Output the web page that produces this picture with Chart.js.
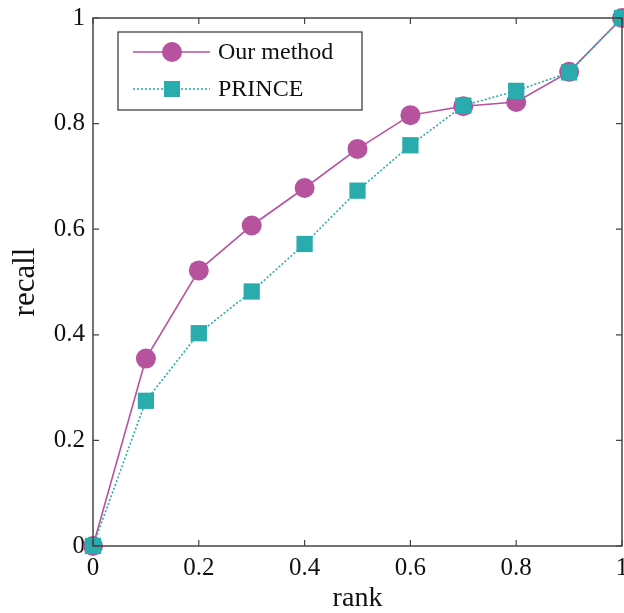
<!DOCTYPE html>
<html>
<head>
<meta charset="utf-8">
<script src="https://cdn.jsdelivr.net/npm/chart.js@4/dist/chart.umd.min.js"></script>
<style>
html,body{margin:0;padding:0;background:#fff;}
#wrap{width:624px;height:613px;}
</style>
</head>
<body>
<div id="wrap"><canvas id="c" width="624" height="613"></canvas></div>
<script>
const rank = [0, 0.1, 0.2, 0.3, 0.4, 0.5, 0.6, 0.7, 0.8, 0.9, 1.0];
const ourMethod = [0, 0.355, 0.522, 0.607, 0.678, 0.752, 0.816, 0.833, 0.841, 0.898, 1.0];
const prince = [0, 0.275, 0.403, 0.482, 0.572, 0.673, 0.759, 0.834, 0.862, 0.897, 1.0];
const seriesNames = ['Our method', 'PRINCE'];
const tickValues = [0, 0.2, 0.4, 0.6, 0.8, 1];

const MAG = '#B6529E';
const TEAL = '#2AABAD';
const FONT = '"Liberation Serif", "Times New Roman", serif';

function pts(ys){ return rank.map((x,i)=>({x:x, y:ys[i]})); }

const frame = {
  id:'frame',
  afterDatasetsDraw(chart){
    const {ctx, chartArea:a, scales:{x, y}} = chart;
    ctx.save();
    ctx.strokeStyle = '#444';
    ctx.lineWidth = 1.5;
    ctx.strokeRect(a.left, a.top, a.right-a.left, a.bottom-a.top);
    ctx.lineWidth = 1.2;
    const L = 6;
    ctx.beginPath();
    tickValues.forEach(v=>{
      const px = x.getPixelForValue(v);
      ctx.moveTo(px, a.bottom); ctx.lineTo(px, a.bottom-L);
      ctx.moveTo(px, a.top); ctx.lineTo(px, a.top+L);
      const py = y.getPixelForValue(v);
      ctx.moveTo(a.left, py); ctx.lineTo(a.left+L, py);
      ctx.moveTo(a.right, py); ctx.lineTo(a.right-L, py);
    });
    ctx.stroke();
    ctx.restore();
  },
  afterDraw(chart){
    const {ctx} = chart;
    ctx.save();
    const bx=118, by=32, bw=244, bh=78;
    ctx.fillStyle='#fff';
    ctx.fillRect(bx,by,bw,bh);
    ctx.strokeStyle='#333';
    ctx.lineWidth=1.2;
    ctx.strokeRect(bx,by,bw,bh);
    const rows=[52,89];
    chart.data.datasets.forEach((ds,i)=>{
      const yy=rows[i];
      ctx.strokeStyle=ds.borderColor;
      ctx.lineWidth=ds.borderWidth;
      ctx.setLineDash(ds.borderDash||[]);
      ctx.beginPath(); ctx.moveTo(133,yy); ctx.lineTo(210,yy); ctx.stroke();
      ctx.setLineDash([]);
      ctx.fillStyle=ds.pointBackgroundColor;
      if(ds.pointStyle==='circle'){
        ctx.beginPath(); ctx.arc(172,yy,10,0,Math.PI*2); ctx.fill();
      } else {
        ctx.fillRect(172-8,yy-8,16,16);
      }
      ctx.fillStyle='#111';
      ctx.font='24px '+FONT;
      ctx.textBaseline='middle';
      ctx.textAlign='left';
      ctx.fillText(ds.label, 218, yy+1);
    });
    ctx.restore();
  }
};

new Chart(document.getElementById('c'), {
  type:'line',
  data:{
    datasets:[
      {label:seriesNames[0], data:pts(ourMethod), borderColor:MAG, backgroundColor:MAG,
       pointBackgroundColor:MAG, pointBorderColor:MAG, borderWidth:1.6, pointStyle:'circle',
       pointRadius:10, pointBorderWidth:0, clip:false, tension:0, order:1},
      {label:seriesNames[1], data:pts(prince), borderColor:TEAL, backgroundColor:TEAL,
       pointBackgroundColor:TEAL, pointBorderColor:TEAL, borderWidth:1.6, borderDash:[2,2],
       pointStyle:'rect', pointRadius:11.5, pointBorderWidth:0, clip:false, tension:0, order:0}
    ]
  },
  options:{
    responsive:false, animation:false, devicePixelRatio:1,
    layout:{autoPadding:false, padding:{top:18, right:2, left:0, bottom:0}},
    plugins:{legend:{display:false}, tooltip:{enabled:false}},
    scales:{
      x:{type:'linear', min:0, max:1,
         grid:{display:false, drawTicks:false}, border:{display:false},
         ticks:{stepSize:0.2, color:'#111', padding:7, maxRotation:0,
                font:{family:FONT, size:25},
                callback:v=>Number(v.toFixed(1)).toString()},
         title:{display:true, text:'rank', color:'#111', font:{family:FONT, size:28, lineHeight:1.0}, padding:{top:0,bottom:0}},
         afterFit(s){ s.height = 67; s.paddingRight = 0; s.paddingLeft = 0; }
      },
      y:{type:'linear', min:0, max:1,
         grid:{display:false, drawTicks:false}, border:{display:false},
         ticks:{stepSize:0.2, color:'#111', padding:8,
                font:{family:FONT, size:25},
                callback:v=>Number(v.toFixed(1)).toString()},
         title:{display:true, text:'recall', color:'#111', font:{family:FONT, size:31}, padding:{top:7,bottom:0}},
         afterFit(s){ s.width = 93; s.paddingTop = 0; s.paddingBottom = 0; }
      }
    }
  },
  plugins:[frame]
});
</script>
</body>
</html>
